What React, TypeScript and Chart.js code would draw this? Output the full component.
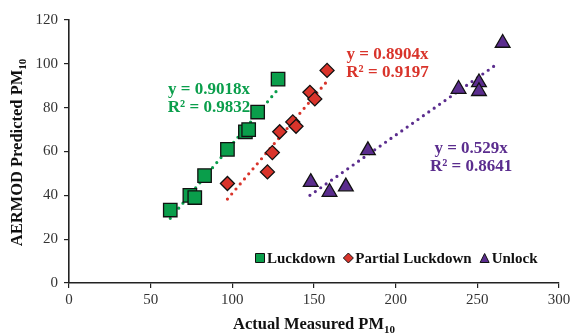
import React, { useEffect, useRef } from "react";
import { Chart, registerables } from "chart.js";

Chart.register(...registerables);

// ---- data ----
const luckdownX = [62, 74, 77, 83, 97, 108, 110, 115.5, 128];
const luckdownY = [33.3, 40, 39, 49, 61, 69, 70, 78, 93];
const partialX = [97, 121.5, 124.5, 129, 137, 139, 147.5, 150.5, 158];
const partialY = [45.4, 50.7, 59.5, 69, 73.5, 71.5, 87, 84, 97];
const unlockX = [148, 159.5, 169.5, 183, 238.5, 251, 251, 265.5];
const unlockY = [46, 41.5, 44, 60.5, 88.5, 91.5, 87.5, 109.5];

// trendline end points (x, y)
const luckdownTrendX = [62, 127.5];
const luckdownTrendY = [29.5, 88];
const partialTrendX = [97, 157];
const partialTrendY = [38.3, 91.2];
const unlockTrendX = [147.5, 263];
const unlockTrendY = [40, 100.4];

const seriesNames = ["Luckdown", "Partial Luckdown", "Unlock"];
const equations = [
  ["y = 0.9018x", "R² = 0.9832"],
  ["y = 0.8904x", "R² = 0.9197"],
  ["y = 0.529x", "R² = 0.8641"],
];
const xTicks = [0, 50, 100, 150, 200, 250, 300];
const yTicks = [0, 20, 40, 60, 80, 100, 120];

const GREEN = "#0a9e4b";
const RED = "#d9342b";
const PURPLE = "#5b2d8e";
const colors = [GREEN, RED, PURPLE];
const styles = ["rect", "rectRot", "triangle"];

const zip = (xs: number[], ys: number[]) => xs.map((x, i) => ({ x, y: ys[i] }));

const SERIF = "'Times New Roman', 'Liberation Serif', serif";

function drawMarker(ctx: CanvasRenderingContext2D, style: string, x: number, y: number, s: number, fill: string) {
  ctx.save();
  ctx.fillStyle = fill;
  ctx.strokeStyle = "#111";
  ctx.lineWidth = 1;
  ctx.beginPath();
  if (style === "rect") {
    ctx.rect(x - s / 2, y - s / 2, s, s);
  } else if (style === "rectRot") {
    ctx.moveTo(x, y - s / 2);
    ctx.lineTo(x + s / 2, y);
    ctx.lineTo(x, y + s / 2);
    ctx.lineTo(x - s / 2, y);
    ctx.closePath();
  } else {
    ctx.moveTo(x, y - s / 2);
    ctx.lineTo(x + s / 2, y + s / 2);
    ctx.lineTo(x - s / 2, y + s / 2);
    ctx.closePath();
  }
  ctx.fill();
  ctx.stroke();
  ctx.restore();
}

function drawSubText(ctx: CanvasRenderingContext2D, main: string, sub: string, x: number, y: number, size: number) {
  ctx.font = `bold ${size}px ${SERIF}`;
  const w1 = ctx.measureText(main).width;
  ctx.font = `bold ${Math.round(size * 0.65)}px ${SERIF}`;
  const w2 = ctx.measureText(sub).width;
  const start = x - (w1 + w2) / 2;
  ctx.textAlign = "left";
  ctx.textBaseline = "middle";
  ctx.font = `bold ${size}px ${SERIF}`;
  ctx.fillText(main, start, y);
  ctx.font = `bold ${Math.round(size * 0.65)}px ${SERIF}`;
  ctx.fillText(sub, start + w1, y + size * 0.3);
}

const overlayPlugin = {
  id: "overlay",
  afterDraw(chart: any) {
    const { ctx, chartArea, scales } = chart;
    const xs = scales.x;
    const ys = scales.y;
    ctx.save();
    // equation labels
    const anchors = [
      { x: 85.7, y: 84.3 },
      { x: 195, y: 100.0 },
      { x: 246.2, y: 57.3 },
    ];
    ctx.font = `bold 17px ${SERIF}`;
    ctx.textAlign = "center";
    ctx.textBaseline = "middle";
    equations.forEach((lines, i) => {
      const px = xs.getPixelForValue(anchors[i].x);
      const py = ys.getPixelForValue(anchors[i].y);
      ctx.fillStyle = colors[i];
      ctx.fillText(lines[0], px, py - 9);
      ctx.fillText(lines[1], px, py + 9);
    });

    // legend
    ctx.textBaseline = "middle";
    ctx.textAlign = "left";
    let cursor = chartArea.left + 186;
    const ly = chartArea.bottom - 25;
    seriesNames.forEach((name, i) => {
      const mx = cursor + 5;
      drawMarker(ctx, styles[i], mx, ly, i === 1 ? 10 : 9, colors[i]);
      ctx.fillStyle = "#111";
      ctx.font = `bold 15px ${SERIF}`;
      const tx = mx + 7;
      ctx.fillText(name, tx, ly + 1);
      const w = ctx.measureText(name).width;
      cursor = tx + w + 8;
    });

    // axis titles
    ctx.fillStyle = "#111";
    const cx = (chartArea.left + chartArea.right) / 2;
    drawSubText(ctx, "Actual Measured PM", "10", cx, 325, 16.5);
    ctx.save();
    ctx.translate(18, (chartArea.top + chartArea.bottom) / 2 + 1);
    ctx.rotate(-Math.PI / 2);
    drawSubText(ctx, "AERMOD Predicted PM", "10", 0, 0, 16.5);
    ctx.restore();
    ctx.restore();
  },
};

export default function App() {
  const ref = useRef<HTMLCanvasElement | null>(null);
  useEffect(() => {
    if (!ref.current) return;
    const markerSets = [
      zip(luckdownX, luckdownY),
      zip(partialX, partialY),
      zip(unlockX, unlockY),
    ];
    const trendSets = [
      zip(luckdownTrendX, luckdownTrendY),
      zip(partialTrendX, partialTrendY),
      zip(unlockTrendX, unlockTrendY),
    ];
    const radii = [9.5, 7, 8.5];
    const datasets: any[] = [];
    trendSets.forEach((d, i) => {
      datasets.push({
        type: "line",
        label: seriesNames[i] + " trend",
        data: d,
        borderColor: colors[i],
        borderWidth: 3.2,
        borderDash: [0, 6.6],
        borderCapStyle: "round",
        pointRadius: 0,
        fill: false,
        order: 2,
      });
    });
    markerSets.forEach((d, i) => {
      datasets.push({
        type: "scatter",
        label: seriesNames[i],
        data: d,
        pointStyle: styles[i],
        pointRadius: radii[i],
        pointBackgroundColor: colors[i],
        pointBorderColor: "#111",
        pointBorderWidth: 1.3,
        showLine: false,
        order: 1,
      });
    });
    const chart = new Chart(ref.current, {
      type: "scatter",
      data: { datasets },
      options: {
        animation: false,
        responsive: false,
        maintainAspectRatio: false,
        layout: { padding: { top: 20, right: 18, left: 0, bottom: 0 } },
        plugins: {
          legend: { display: false },
          tooltip: { enabled: false },
        },
        scales: {
          x: {
            type: "linear",
            min: 0,
            max: 300,
            afterBuildTicks: (s: any) => {
              s.ticks = xTicks.map((v) => ({ value: v }));
            },
            afterFit: (s: any) => {
              s.height = 50;
            },
            grid: {
              drawOnChartArea: false,
              drawTicks: true,
              tickLength: 5,
              color: "#222",
              lineWidth: 1.2,
            },
            border: { color: "#222", width: 1.6 },
            ticks: {
              color: "#333",
              font: { family: SERIF, size: 15 },
              padding: 3,
              maxRotation: 0,
            },
          },
          y: {
            type: "linear",
            min: 0,
            max: 120,
            afterBuildTicks: (s: any) => {
              s.ticks = yTicks.map((v) => ({ value: v }));
            },
            afterFit: (s: any) => {
              s.width = 69;
            },
            grid: {
              drawOnChartArea: false,
              drawTicks: true,
              tickLength: 5,
              color: "#222",
              lineWidth: 1.2,
            },
            border: { color: "#222", width: 1.6 },
            ticks: {
              color: "#333",
              font: { family: SERIF, size: 15 },
              padding: 6,
            },
          },
        },
      },
      plugins: [overlayPlugin],
    });
    return () => chart.destroy();
  }, []);
  return (
    <div style={{ position: "fixed", left: 0, top: 0, width: 577, height: 333, background: "#fff" }}>
      <canvas ref={ref} width={577} height={333} style={{ width: 577, height: 333, display: "block" }} />
    </div>
  );
}
